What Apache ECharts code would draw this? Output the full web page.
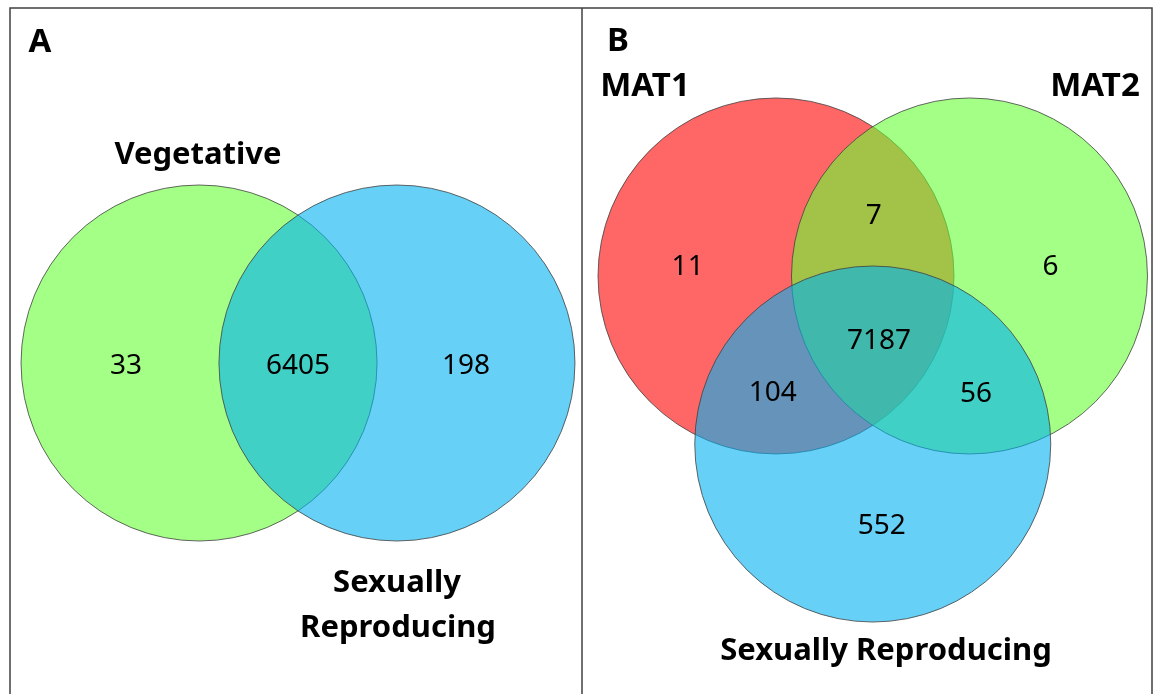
<!DOCTYPE html>
<html>
<head>
<meta charset="utf-8">
<script src="https://cdn.jsdelivr.net/npm/echarts@6/dist/echarts.min.js"></script>
<style>
html, body { margin: 0; padding: 0; background: #fff; }
#main { width: 1160px; height: 694px; }
</style>
</head>
<body>
<div id="main"></div>
<script>
// 数据: 集合名 + 各区域的基因数
var setsA = ['Vegetative', 'Sexually Reproducing'];
var regionsA = ['Vegetative only', 'Both', 'Sexually Reproducing only'];
var countsA = [33, 6405, 198];

var setsB = ['MAT1', 'MAT2', 'Sexually Reproducing'];
var regionsB = ['MAT1 only', 'MAT1 & MAT2', 'MAT2 only', 'All three', 'MAT1 & Sexual', 'MAT2 & Sexual', 'Sexual only'];
var countsB = [11, 7, 6, 7187, 104, 56, 552];

// 布局 (单位 = 圆半径)
var R = 178; // 一个单位多少像素
var circlesA = [[-0.556, 0], [0.556, 0]];
var anchorsA = [[-0.966, -0.015], [0, -0.015], [0.944, -0.015]];
var circlesB = [[-0.5435, 0.472], [0.5435, 0.472], [0, -0.472]];
var anchorsB = [[-1.04, 0.524], [0.006, 0.811], [0.998, 0.524], [0.035, 0.107], [-0.562, -0.187], [0.58, -0.19], [0.051, -0.933]];

var colorsA = ['rgba(102,255,51,0.6)', 'rgba(0,176,240,0.6)'];
var colorsB = ['rgba(255,0,0,0.6)', 'rgba(102,255,51,0.6)', 'rgba(0,176,240,0.6)'];

var FONT = '"Noto Sans", "DejaVu Sans", sans-serif';

function extent(circles){
	var xs = circles.map(function(c){ return c[0]; });
	var ys = circles.map(function(c){ return c[1]; });
	return {
		xmin: Math.min.apply(null, xs) - 1, xmax: Math.max.apply(null, xs) + 1,
		ymin: Math.min.apply(null, ys) - 1, ymax: Math.max.apply(null, ys) + 1
	};
}
// 面板中心像素位置
function gridFor(cx, cy, e){
	return {
		left: cx + e.xmin * R,
		top: cy - e.ymax * R,
		width: (e.xmax - e.xmin) * R,
		height: (e.ymax - e.ymin) * R,
		show: false
	};
}
var extA = extent(circlesA);
var extB = extent(circlesB);

function axis(idx, min, max){
	return { gridIndex: idx, type: 'value', min: min, max: max, show: false };
}

function circleSeries(idx, circles, colors, names){
	return {
		type: 'custom',
		xAxisIndex: idx, yAxisIndex: idx,
		silent: true,
		data: circles.map(function(c, i){ return [c[0], c[1], i]; }),
		renderItem: function(params, api){
			var p = api.coord([api.value(0), api.value(1)]);
			var s = api.size([1, 1]);
			return {
				type: 'circle',
				shape: { cx: p[0], cy: p[1], r: s[0] },
				style: {
					fill: colors[api.value(2)],
					stroke: '#404040',
					lineWidth: 0.8
				}
			};
		}
	};
}

function labelSeries(idx, anchors, counts){
	return {
		type: 'custom',
		xAxisIndex: idx, yAxisIndex: idx,
		silent: true,
		z: 5,
		data: anchors.map(function(a, i){ return [a[0], a[1], counts[i]]; }),
		renderItem: function(params, api){
			var p = api.coord([api.value(0), api.value(1)]);
			return {
				type: 'text',
				x: p[0], y: p[1],
				style: {
					text: String(api.value(2)),
					font: '28px ' + FONT,
					fill: '#000',
					textAlign: 'center',
					textVerticalAlign: 'middle'
				}
			};
		}
	};
}

function title(text, x, y, size){
	return {
		type: 'text', x: x, y: y, z: 10,
		style: {
			text: text,
			font: 'bold ' + (size || 31) + 'px ' + FONT,
			fill: '#000',
			textAlign: 'center',
			textVerticalAlign: 'middle'
		}
	};
}

var myChart = echarts.init(document.getElementById('main'), null, { renderer: 'canvas' });

var option = {
	backgroundColor: '#fff',
	animation: false,
	grid: [gridFor(298, 363, extA), gridFor(872.75, 360, extB)],
	xAxis: [axis(0, extA.xmin, extA.xmax), axis(1, extB.xmin, extB.xmax)],
	yAxis: [axis(0, extA.ymin, extA.ymax), axis(1, extB.ymin, extB.ymax)],
	series: [
		circleSeries(0, circlesA, colorsA, setsA),
		labelSeries(0, anchorsA, countsA),
		circleSeries(1, circlesB, colorsB, setsB),
		labelSeries(1, anchorsB, countsB)
	],
	graphic: [
		// 外框和分隔线
		{ type: 'rect', shape: { x: 10, y: 8, width: 1142, height: 720 }, style: { fill: 'none', stroke: '#404040', lineWidth: 1.5 } },
		{ type: 'line', shape: { x1: 582, y1: 8, x2: 582, y2: 700 }, style: { stroke: '#404040', lineWidth: 1.5 } },
		title('A', 40, 43, 33),
		title('B', 618, 42, 33),
		title(setsA[0], 198, 155),
		title(setsA[1].split(' ')[0], 397, 583),
		title(setsA[1].split(' ')[1], 398, 628),
		title(setsB[0], 645, 87, 33),
		title(setsB[1], 1095, 87, 33),
		title(setsB[2], 886, 651)
	]
};
myChart.setOption(option);
</script>
</body>
</html>
